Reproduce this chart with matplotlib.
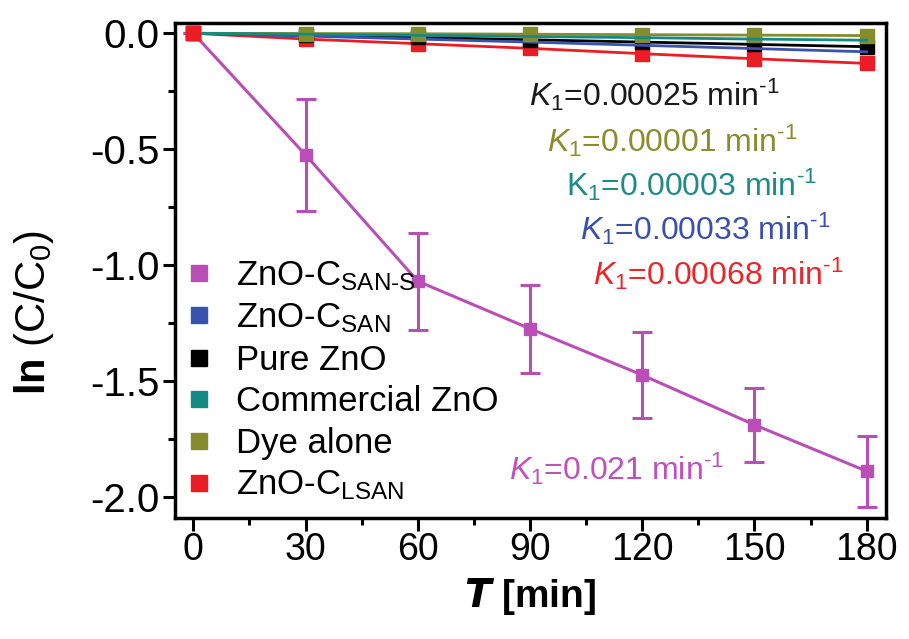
import matplotlib
matplotlib.use("Agg")
import matplotlib.pyplot as plt
from matplotlib.lines import Line2D
from matplotlib.ticker import MultipleLocator

plt.rcParams['font.family'] = ['Liberation Sans', 'DejaVu Sans']
plt.rcParams['mathtext.fontset'] = 'custom'
plt.rcParams['mathtext.rm'] = 'Liberation Sans'
plt.rcParams['mathtext.it'] = 'Liberation Sans:italic'
plt.rcParams['mathtext.bf'] = 'Liberation Sans:bold'
plt.rcParams['axes.unicode_minus'] = False

# ---- data ----
time_min = [0, 30, 60, 90, 120, 150, 180]
zno_san_s = [0, -0.525, -1.07, -1.275, -1.475, -1.69, -1.89]
zno_san_s_err = [0, 0.24, 0.21, 0.19, 0.185, 0.16, 0.153]
zno_san = [0, -0.012, -0.025, -0.038, -0.052, -0.066, -0.08]
pure_zno = [0, -0.008, -0.018, -0.028, -0.038, -0.048, -0.058]
commercial_zno = [0, -0.004, -0.009, -0.014, -0.019, -0.025, -0.03]
dye_alone = [0, -0.001, -0.002, -0.004, -0.006, -0.008, -0.01]
zno_lsan = [0, -0.025, -0.045, -0.065, -0.088, -0.11, -0.13]

legend_labels = [r"ZnO-C$_{\mathrm{SAN\text{-}S}}$", r"ZnO-C$_{\mathrm{SAN}}$",
                 "Pure ZnO", "Commercial ZnO", "Dye alone", r"ZnO-C$_{\mathrm{LSAN}}$"]
k_labels = [r"$K_1$=0.00025 min$^{\text{-}1}$", r"$K_1$=0.00001 min$^{\text{-}1}$",
            r"$\mathrm{K}_1$=0.00003 min$^{\text{-}1}$", r"$K_1$=0.00033 min$^{\text{-}1}$",
            r"$K_1$=0.00068 min$^{\text{-}1}$", r"$K_1$=0.021 min$^{\text{-}1}$"]
x_ticks = [0, 30, 60, 90, 120, 150, 180]
y_ticks = [0.0, -0.5, -1.0, -1.5, -2.0]

c_mag = '#B94FB6'
c_blue = '#3A52B0'
c_black = '#000000'
c_teal = '#148A84'
c_olive = '#858C2E'
c_red = '#EC1C24'

fig = plt.figure(figsize=(9.09, 6.39), dpi=100)
ax = fig.add_axes([0.1925, 0.1894, 0.7819, 0.7751])

ms = 10
ax.errorbar(time_min, zno_san_s, yerr=zno_san_s_err, color=c_mag, marker='s', ms=9,
            lw=2.2, elinewidth=2.2, capsize=7, capthick=2.2, zorder=3)
ax.plot(time_min, zno_lsan, color=c_red, marker='s', ms=ms, lw=2, zorder=4)
ax.plot(time_min, pure_zno, color=c_black, marker='s', ms=ms, lw=2, zorder=4)
ax.plot(time_min, zno_san, color=c_blue, marker=None, lw=2, zorder=5)
ax.plot(time_min, dye_alone, color=c_olive, marker='s', ms=ms, lw=2, zorder=5)
ax.plot(time_min, commercial_zno, color=c_teal, marker=None, lw=2, zorder=6)
ax.plot(time_min[:1], zno_lsan[:1], color=c_red, marker='s', ms=ms, lw=0, zorder=7)

ax.set_xlim(-4.9, 185.1)
ax.set_ylim(-2.092, 0.0457)
ax.set_xticks(x_ticks)
ax.set_yticks(y_ticks)
ax.set_yticklabels([f"{v:.1f}" for v in y_ticks])
ax.xaxis.set_minor_locator(MultipleLocator(15))
ax.yaxis.set_minor_locator(MultipleLocator(0.25))
ax.tick_params(which='both', direction='out', top=False, right=False, width=2.2)
ax.tick_params(which='major', length=9)
ax.tick_params(axis='x', labelsize=27, pad=1)
ax.tick_params(axis='y', labelsize=29, pad=2)
ax.tick_params(which='minor', length=5)
for s in ax.spines.values():
    s.set_linewidth(2.5)

ax.set_ylabel(r"$\mathbf{ln}$ (C/C$_{0}$)", fontsize=30)
ax.yaxis.set_label_coords(-0.168, 0.415)
ax.set_xlabel(r"$\boldsymbol{T}$ [min]", fontsize=28, fontweight='bold', labelpad=6)

handles = [Line2D([], [], color=c, marker='s', ms=11, lw=0)
           for c in [c_mag, c_blue, c_black, c_teal, c_olive, c_red]]
leg = ax.legend(handles, legend_labels, loc='upper left', bbox_to_anchor=(-0.01, 0.565),
                frameon=False, fontsize=25, labelspacing=0.25, handlelength=0.6,
                handletextpad=0.75, borderaxespad=0.2)

k_colors = ['#1a1a1a', '#8A8C2E', '#1E8C86', '#3A50B0', '#E8262C', '#C050C0']
k_pos = [(0.498, 0.855), (0.523, 0.762), (0.55, 0.672), (0.57, 0.583), (0.588, 0.493), (0.47, 0.10)]
for lab, col, (px, py) in zip(k_labels, k_colors, k_pos):
    ax.text(px, py, lab, color=col, fontsize=23, transform=ax.transAxes, va='center', ha='left')

fig.savefig("out.png", dpi=100)
